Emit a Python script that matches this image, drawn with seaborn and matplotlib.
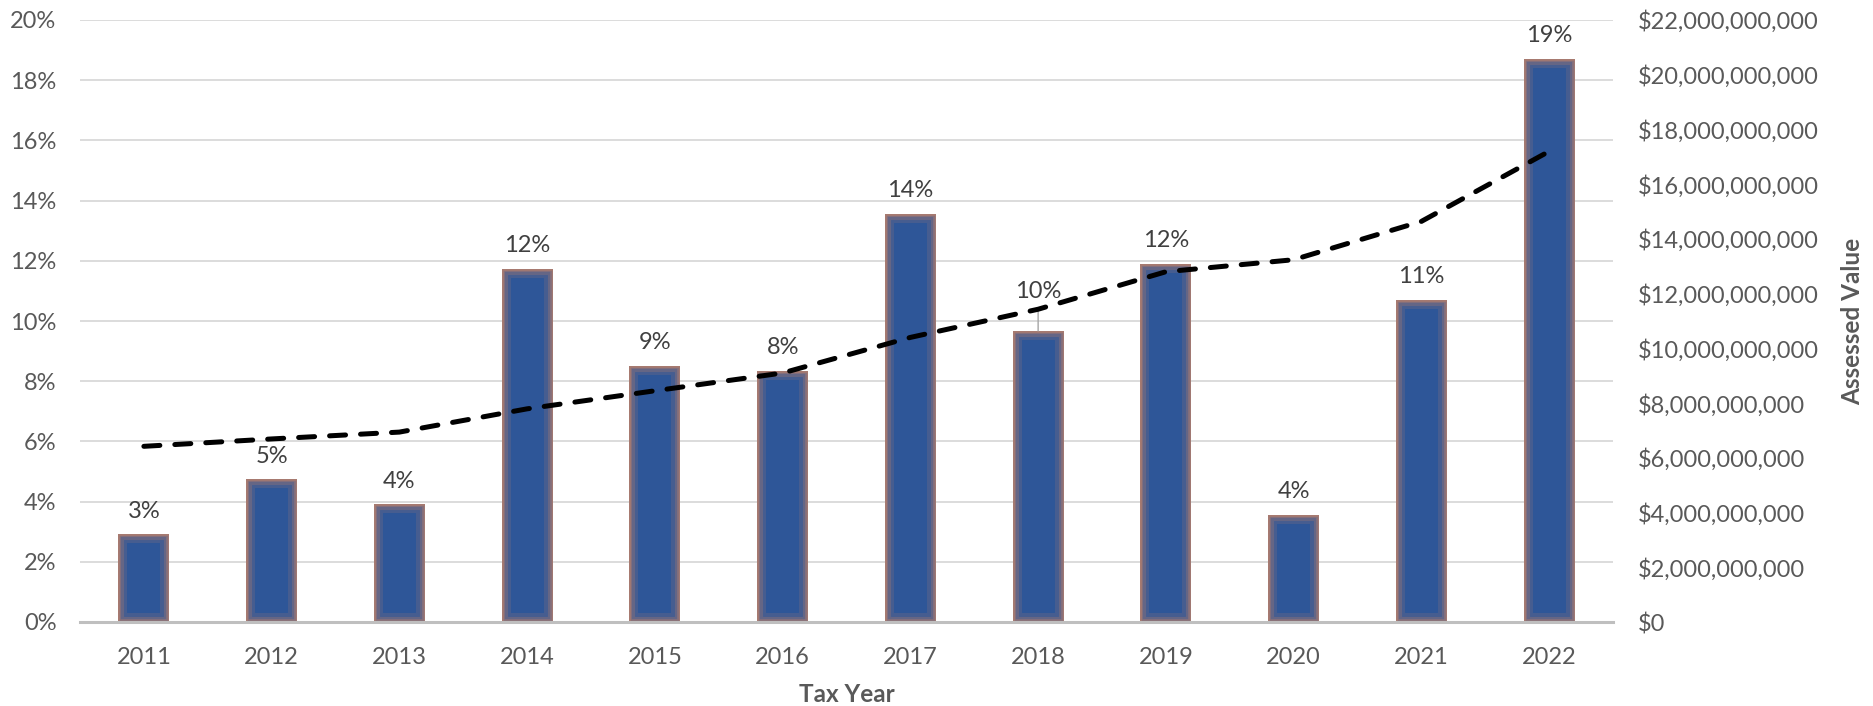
import numpy as np
import pandas as pd
import matplotlib
matplotlib.use("Agg")
import matplotlib.pyplot as plt
from matplotlib import font_manager as fm
from matplotlib.patches import Rectangle
from matplotlib.ticker import FuncFormatter, MultipleLocator
import seaborn as sns

# ---- data ----
years = [2011, 2012, 2013, 2014, 2015, 2016, 2017, 2018, 2019, 2020, 2021, 2022]
pct_change = [2.91, 4.74, 3.91, 11.73, 8.51, 8.35, 13.55, 9.67, 11.91, 3.55, 10.70, 18.72]
assessed_value = [6.42e9, 6.69e9, 6.94e9, 7.79e9, 8.45e9, 9.10e9, 10.40e9,
                  11.43e9, 12.80e9, 13.24e9, 14.64e9, 17.20e9]

df = pd.DataFrame({"year": [str(y) for y in years], "pct": pct_change, "value": assessed_value})
df["pos"] = np.arange(len(df))

sns.set_style("white")
plt.rcParams["font.family"] = ["Lato", "DejaVu Sans"]

lato_bold = any(f.name == "Lato" and (f.weight in ("bold", "heavy", "black") or
                (isinstance(f.weight, int) and f.weight >= 700))
                for f in fm.fontManager.ttflist)
TITLE_FAMILY = ["Lato", "DejaVu Sans"] if lato_bold else ["Roboto", "DejaVu Sans"]

FS = 17
FS_TITLE = 17.5
TICK_C = "#595959"
LABEL_C = "#404040"
BAR_C = "#2E5698"
GLOW_C = "#A97B70"

fig = plt.figure(figsize=(18.73, 7.06), dpi=100)
ax = fig.add_axes([80 / 1873, 84 / 706, (1613 - 80) / 1873, (622 - 20) / 706])

sns.barplot(data=df, x="year", y="pct", ax=ax, color=BAR_C, width=0.4,
            saturation=1, edgecolor=GLOW_C, linewidth=0, zorder=2)

# soft inner glow on bar edges
bars = list(ax.patches)
for p in bars:
    for lw, a in [(13, 0.2), (8, 0.32), (4, 0.55), (1.8, 0.95)]:
        r = Rectangle(p.get_xy(), p.get_width(), p.get_height(), facecolor="none",
                      edgecolor=GLOW_C, linewidth=lw, alpha=a, zorder=2.1)
        ax.add_patch(r)
        r.set_clip_path(p)

ax.set_ylim(0, 20)
ax.set_xlim(-0.5, len(df) - 0.5)
ax.yaxis.set_major_locator(MultipleLocator(2))
ax.yaxis.set_major_formatter(FuncFormatter(lambda v, _: f"{v:.0f}%"))
ax.grid(axis="y", color="#D9D9D9", linewidth=1.3, zorder=0)
ax.set_axisbelow(True)
for s in ["top", "right", "left"]:
    ax.spines[s].set_visible(False)
ax.spines["bottom"].set_color("#BFBFBF")
ax.spines["bottom"].set_linewidth(2.2)
ax.spines["bottom"].set_zorder(3)
ax.tick_params(axis="both", length=0, labelsize=FS, labelcolor=TICK_C)
ax.tick_params(axis="y", pad=17)
ax.tick_params(axis="x", pad=18)
ax.set_xlabel("Tax Year", fontsize=FS_TITLE, fontweight="bold", color=TICK_C, labelpad=11,
              family=TITLE_FAMILY)
ax.set_ylabel("")

# data labels
for p, v, y in zip(bars, df["pct"], years):
    cx = p.get_x() + p.get_width() / 2
    top = p.get_height()
    if y == 2018:
        ax.annotate(f"{v:.0f}%", xy=(cx, top), xytext=(0, 24), textcoords="offset points",
                    ha="center", va="baseline", fontsize=FS, color=LABEL_C, zorder=5,
                    arrowprops=dict(arrowstyle="-", color="#A6A6A6", lw=1,
                                    shrinkA=2, shrinkB=0))
    else:
        ax.annotate(f"{v:.0f}%", xy=(cx, top), xytext=(0, 12), textcoords="offset points",
                    ha="center", va="baseline", fontsize=FS, color=LABEL_C, zorder=5)

# secondary axis: assessed value
ax2 = ax.twinx()
sns.lineplot(data=df, x="pos", y="value", ax=ax2, color="black", linewidth=3.6,
             linestyle=(0, (3.2, 3.0)), dash_capstyle="round")
ax2.set_ylim(0, 22e9)
ax2.yaxis.set_major_locator(MultipleLocator(2e9))
ax2.yaxis.set_major_formatter(FuncFormatter(lambda v, _: f"${v:,.0f}"))
ax2.tick_params(axis="y", length=0, labelsize=FS, labelcolor=TICK_C, pad=18)
ax2.grid(False)
for s in ax2.spines.values():
    s.set_visible(False)
ax2.set_xlabel("")
ax2.set_ylabel("Assessed Value", fontsize=FS_TITLE, fontweight="bold", color=TICK_C,
               labelpad=16, family=TITLE_FAMILY)
ax2.set_xlim(-0.5, len(df) - 0.5)

fig.savefig("out.png", dpi=100)
